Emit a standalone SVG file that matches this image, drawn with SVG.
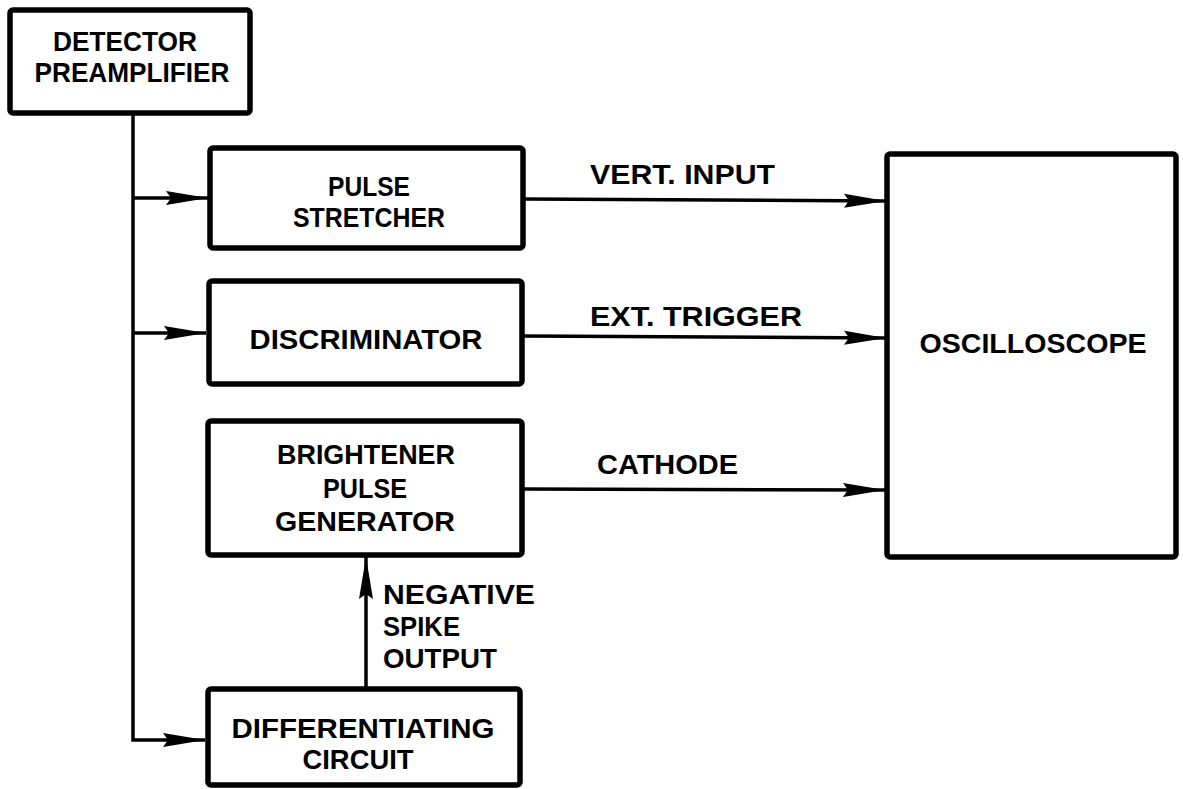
<svg xmlns="http://www.w3.org/2000/svg" width="1183" height="789" viewBox="0 0 1183 789">
<style>
.box{fill:#fff;stroke:#000;stroke-width:5.5;stroke-linejoin:round}
.t{font-family:"Liberation Sans",Arial,sans-serif;font-weight:bold;font-size:28px;fill:#000}
.c{text-anchor:middle}
.ln{fill:none;stroke:#000;stroke-width:3.5;stroke-linejoin:miter}
</style>
<defs>
<marker id="ah" markerUnits="userSpaceOnUse" markerWidth="44" markerHeight="18" viewBox="0 -9 44 18" refX="42" refY="0" orient="auto">
<path d="M0,-7 L42,0 L0,7 L5,0 Z" fill="#000"/>
</marker>
</defs>
<rect width="1183" height="789" fill="#fff"/>
<g id="connectors">
<polyline class="ln" points="133,113 133,740 205,740" marker-end="url(#ah)"/>
<line class="ln" x1="133" y1="198" x2="208" y2="198" marker-end="url(#ah)"/>
<line class="ln" x1="133" y1="333" x2="206" y2="333" marker-end="url(#ah)"/>
<line class="ln" x1="523" y1="199" x2="886" y2="201" marker-end="url(#ah)"/>
<line class="ln" x1="523" y1="336" x2="886" y2="338" marker-end="url(#ah)"/>
<line class="ln" x1="522" y1="489" x2="885" y2="490" marker-end="url(#ah)"/>
<line class="ln" x1="366" y1="688" x2="366" y2="557" marker-end="url(#ah)"/>
<text class="t" x="590" y="184" textLength="185" lengthAdjust="spacingAndGlyphs">VERT. INPUT</text>
<text class="t" x="590" y="326" textLength="212" lengthAdjust="spacingAndGlyphs">EXT. TRIGGER</text>
<text class="t" x="597" y="474" textLength="141" lengthAdjust="spacingAndGlyphs">CATHODE</text>
<text class="t" x="383" y="604" textLength="152" lengthAdjust="spacingAndGlyphs">NEGATIVE</text>
<text class="t" x="383" y="636" textLength="77" lengthAdjust="spacingAndGlyphs">SPIKE</text>
<text class="t" x="383" y="668" textLength="114" lengthAdjust="spacingAndGlyphs">OUTPUT</text>
</g>
<g id="preamp">
<rect class="box" x="10" y="10" width="240" height="103" rx="3"/>
<text class="t c" x="125" y="51" textLength="144" lengthAdjust="spacingAndGlyphs">DETECTOR</text>
<text class="t c" x="132" y="82" textLength="195" lengthAdjust="spacingAndGlyphs">PREAMPLIFIER</text>
</g>
<g id="stretcher">
<rect class="box" x="210" y="148" width="313" height="100" rx="3"/>
<text class="t c" x="369" y="196" textLength="82" lengthAdjust="spacingAndGlyphs">PULSE</text>
<text class="t c" x="369" y="227" textLength="152" lengthAdjust="spacingAndGlyphs">STRETCHER</text>
</g>
<g id="discriminator">
<rect class="box" x="209" y="281" width="313" height="103" rx="3"/>
<text class="t c" x="366" y="349" textLength="233" lengthAdjust="spacingAndGlyphs">DISCRIMINATOR</text>
</g>
<g id="brightener">
<rect class="box" x="208" y="421" width="314" height="134" rx="3"/>
<text class="t c" x="366" y="464" textLength="178" lengthAdjust="spacingAndGlyphs">BRIGHTENER</text>
<text class="t c" x="365" y="498" textLength="84" lengthAdjust="spacingAndGlyphs">PULSE</text>
<text class="t c" x="365" y="531" textLength="180" lengthAdjust="spacingAndGlyphs">GENERATOR</text>
</g>
<g id="differentiating">
<rect class="box" x="208" y="689" width="312" height="96" rx="3"/>
<text class="t c" x="363" y="738" textLength="263" lengthAdjust="spacingAndGlyphs">DIFFERENTIATING</text>
<text class="t c" x="358" y="769" textLength="111" lengthAdjust="spacingAndGlyphs">CIRCUIT</text>
</g>
<g id="oscilloscope">
<rect class="box" x="887" y="154" width="289" height="403" rx="3"/>
<text class="t c" x="1033" y="353" textLength="227" lengthAdjust="spacingAndGlyphs">OSCILLOSCOPE</text>
</g>
</svg>
